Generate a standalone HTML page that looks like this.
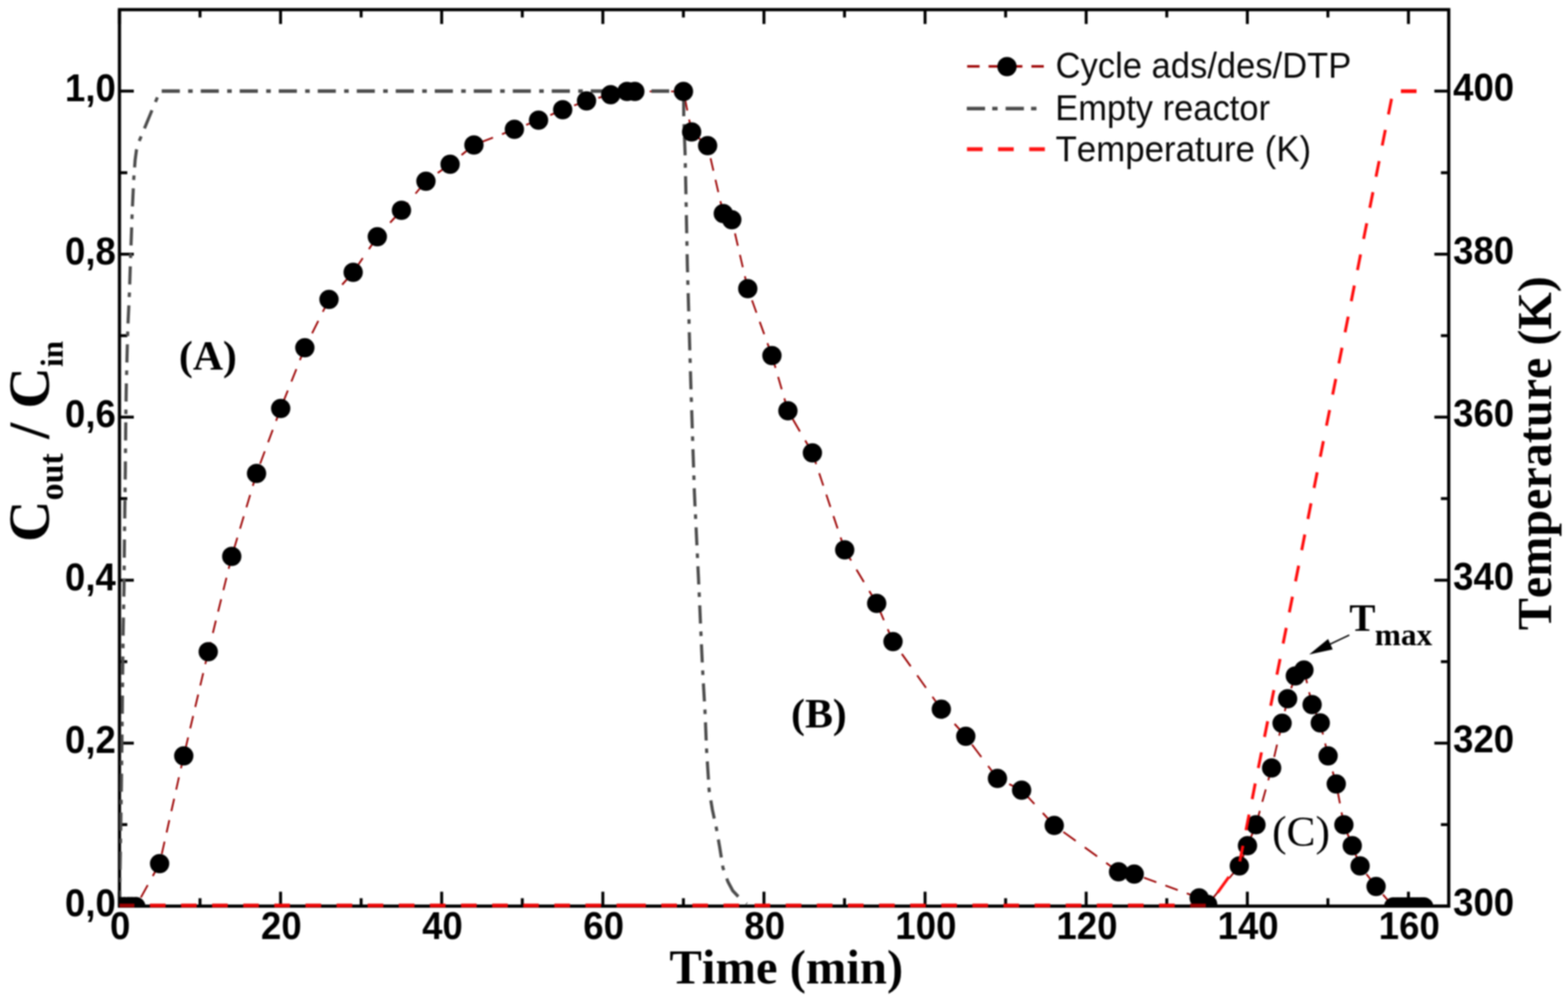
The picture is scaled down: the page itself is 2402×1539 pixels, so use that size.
<!DOCTYPE html>
<html lang="en"><head><meta charset="utf-8"><title>Cycle ads/des/DTP</title>
<style>
html,body{margin:0;padding:0;background:#fff;}
body{width:2402px;height:1539px;overflow:hidden;}
svg{display:block;}
text{font-kerning:none;}
#chart{filter:blur(1.10px);}
.tk{font-family:"Liberation Sans",sans-serif;font-weight:bold;font-size:59px;fill:#000;}
.lg{font-family:"Liberation Sans",sans-serif;font-size:55px;fill:#0a0a0a;}
.ti{font-family:"Liberation Serif",serif;font-weight:bold;fill:#000;}
</style></head><body>
<svg width="2402" height="1539" viewBox="0 0 2402 1539">
<rect width="2402" height="1539" fill="#fff"/>
<defs><clipPath id="plot"><rect x="183.0" y="14.8" width="2036.3" height="1375.3"/></clipPath></defs>
<g id="chart">
<rect x="183.0" y="14.8" width="2036.3" height="1372.8" fill="none" stroke="#000" stroke-width="4.9"/>
<path d="M183.0,1387.6 v-22.0 M183.0,14.8 v22.0 M306.4,1387.6 v-12.0 M306.4,14.8 v12.0 M429.8,1387.6 v-22.0 M429.8,14.8 v22.0 M553.2,1387.6 v-12.0 M553.2,14.8 v12.0 M676.6,1387.6 v-22.0 M676.6,14.8 v22.0 M800.1,1387.6 v-12.0 M800.1,14.8 v12.0 M923.5,1387.6 v-22.0 M923.5,14.8 v22.0 M1046.9,1387.6 v-12.0 M1046.9,14.8 v12.0 M1170.3,1387.6 v-22.0 M1170.3,14.8 v22.0 M1293.7,1387.6 v-12.0 M1293.7,14.8 v12.0 M1417.1,1387.6 v-22.0 M1417.1,14.8 v22.0 M1540.5,1387.6 v-12.0 M1540.5,14.8 v12.0 M1663.9,1387.6 v-22.0 M1663.9,14.8 v22.0 M1787.4,1387.6 v-12.0 M1787.4,14.8 v12.0 M1910.8,1387.6 v-22.0 M1910.8,14.8 v22.0 M2034.2,1387.6 v-12.0 M2034.2,14.8 v12.0 M2157.6,1387.6 v-22.0 M2157.6,14.8 v22.0 M183.0,1387.6 h22.0 M2219.3,1387.6 h-22.0 M183.0,1262.8 h12.0 M2219.3,1262.8 h-12.0 M183.0,1138.0 h22.0 M2219.3,1138.0 h-22.0 M183.0,1013.2 h12.0 M2219.3,1013.2 h-12.0 M183.0,888.4 h22.0 M2219.3,888.4 h-22.0 M183.0,763.6 h12.0 M2219.3,763.6 h-12.0 M183.0,638.8 h22.0 M2219.3,638.8 h-22.0 M183.0,514.0 h12.0 M2219.3,514.0 h-12.0 M183.0,389.2 h22.0 M2219.3,389.2 h-22.0 M183.0,264.4 h12.0 M2219.3,264.4 h-12.0 M183.0,139.6 h22.0 M2219.3,139.6 h-22.0" stroke="#000" stroke-width="4.5" fill="none"/>
<g clip-path="url(#plot)">
<path d="M190.0,1388.3 L184.0,1388.3 M196.5,1388.3 L190.0,1388.3 M202.0,1388.3 L196.5,1388.3 M208.0,1388.3 L202.0,1388.3 M244.5,1322.5 L234.0,1341.5 M226.3,1355.3 L215.8,1374.3 M208.1,1388.1 L208.0,1388.3 M281.5,1157.5 L277.2,1176.5 M274.1,1190.3 L269.9,1209.3 M266.8,1223.1 L262.5,1242.1 M259.4,1255.9 L255.2,1274.9 M252.1,1288.7 L247.8,1307.7 M244.7,1321.5 L244.5,1322.5 M319.0,998.0 L314.5,1017.0 M311.3,1030.8 L306.8,1049.8 M303.6,1063.6 L299.1,1082.6 M295.9,1096.4 L291.4,1115.4 M288.2,1129.2 L283.7,1148.2 M355.0,852.0 L350.3,871.0 M346.9,884.8 L342.2,903.8 M338.8,917.6 L334.1,936.6 M330.7,950.4 L326.1,969.4 M322.6,983.2 L319.0,998.0 M393.0,725.0 L387.3,744.0 M383.2,757.8 L377.5,776.8 M373.4,790.6 L367.7,809.6 M363.6,823.4 L357.9,842.4 M430.0,625.5 L422.9,644.5 M417.8,658.3 L410.7,677.3 M405.6,691.1 L398.5,710.1 M393.4,723.9 L393.0,725.0 M467.0,532.5 L459.4,551.5 M454.0,565.3 L446.4,584.3 M440.9,598.1 L433.3,617.1 M504.0,458.5 L494.5,477.5 M487.6,491.3 L478.1,510.3 M471.2,524.1 L467.0,532.5 M541.0,417.0 L524.1,436.0 M511.8,449.8 L504.0,458.5 M578.0,362.5 L565.1,381.5 M555.7,395.3 L542.8,414.3 M615.0,322.0 L597.6,341.0 M585.0,354.8 L578.0,362.5 M652.5,277.5 L636.5,296.5 M624.9,310.3 L615.0,322.0 M689.5,251.5 L670.5,264.9 M656.7,274.5 L652.5,277.5 M726.0,222.0 L707.0,237.4 M693.2,248.5 L689.5,251.5 M788.0,198.0 L769.0,205.4 M755.2,210.7 L736.2,218.1 M825.0,184.0 L806.0,191.2 M792.2,196.4 L788.0,198.0 M862.0,168.0 L843.0,176.2 M829.2,182.2 L825.0,184.0 M898.5,154.5 L879.5,161.5 M865.7,166.6 L862.0,168.0 M935.5,145.0 L916.5,149.9 M902.7,153.4 L898.5,154.5 M960.5,140.0 L941.5,143.8 M972.5,140.0 L960.5,140.0 M1047.0,140.0 L1028.0,140.0 M1014.2,140.0 L995.2,140.0 M981.4,140.0 L972.5,140.0 M1059.5,202.0 L1055.7,183.0 M1052.9,169.2 L1049.1,150.2 M1084.0,223.0 L1065.0,206.7 M1108.0,327.0 L1103.6,308.0 M1100.4,294.2 L1096.0,275.2 M1092.9,261.4 L1088.5,242.4 M1085.3,228.6 L1084.0,223.0 M1121.0,336.5 L1108.0,327.0 M1145.5,442.0 L1141.1,423.0 M1137.9,409.2 L1133.5,390.2 M1130.3,376.4 L1125.9,357.4 M1122.6,343.6 L1121.0,336.5 M1182.5,544.5 L1175.6,525.5 M1170.7,511.7 L1163.8,492.7 M1158.8,478.9 L1152.0,459.9 M1147.0,446.1 L1145.5,442.0 M1207.0,629.0 L1201.5,610.0 M1197.5,596.2 L1192.0,577.2 M1188.0,563.4 L1182.5,544.5 M1244.5,693.5 L1233.5,674.5 M1225.4,660.7 L1214.4,641.7 M1294.0,842.0 L1287.7,823.0 M1283.1,809.2 L1276.7,790.2 M1272.1,776.4 L1265.8,757.4 M1261.2,743.6 L1254.9,724.6 M1250.3,710.8 L1244.5,693.5 M1343.0,924.0 L1331.6,905.0 M1323.4,891.2 L1312.0,872.2 M1303.8,858.4 L1294.0,842.0 M1368.0,982.5 L1359.9,963.5 M1354.0,949.7 L1345.9,930.7 M1442.0,1086.0 L1428.4,1067.0 M1418.5,1053.2 L1405.0,1034.2 M1395.1,1020.4 L1381.5,1001.4 M1371.6,987.6 L1368.0,982.5 M1479.5,1127.5 L1462.3,1108.5 M1449.9,1094.7 L1442.0,1086.0 M1528.0,1192.0 L1513.7,1173.0 M1503.3,1159.2 L1489.0,1140.2 M1565.0,1210.0 L1546.0,1200.8 M1532.2,1194.0 L1528.0,1192.0 M1615.0,1264.0 L1597.4,1245.0 M1584.6,1231.2 L1567.0,1212.2 M1713.5,1335.0 L1694.5,1321.3 M1680.7,1311.4 L1661.7,1297.7 M1647.9,1287.7 L1628.9,1274.0 M1615.1,1264.1 L1615.0,1264.0 M1737.5,1338.5 L1718.5,1335.7 M1837.0,1375.0 L1818.0,1368.0 M1804.2,1363.0 L1785.2,1356.0 M1771.4,1350.9 L1752.4,1344.0 M1738.6,1338.9 L1737.5,1338.5 M1850.0,1385.0 L1837.0,1375.0 M1898.5,1326.0 L1882.9,1345.0 M1871.5,1358.8 L1855.9,1377.8 M1911.0,1295.0 L1903.3,1314.0 M1924.0,1263.0 L1916.3,1282.0 M1948.0,1176.0 L1942.8,1195.0 M1939.0,1208.8 L1933.7,1227.8 M1929.9,1241.6 L1924.7,1260.6 M1964.0,1107.5 L1959.6,1126.5 M1956.3,1140.3 L1951.9,1159.3 M1948.7,1173.1 L1948.0,1176.0 M1972.5,1070.0 L1968.2,1089.0 M1965.1,1102.8 L1964.0,1107.5 M1984.3,1035.0 L1977.9,1054.0 M1973.2,1067.8 L1972.5,1070.0 M1997.5,1026.0 L1984.3,1035.0 M2010.0,1079.0 L2005.5,1060.0 M2002.3,1046.2 L1997.8,1027.2 M2022.5,1107.0 L2014.0,1088.0 M2034.5,1157.5 L2030.0,1138.5 M2026.7,1124.7 L2022.5,1107.0 M2047.0,1200.5 L2041.5,1181.5 M2037.5,1167.7 L2034.5,1157.5 M2058.7,1263.0 L2055.1,1244.0 M2052.6,1230.2 L2049.0,1211.2 M2071.5,1295.0 L2063.9,1276.0 M2083.5,1326.0 L2076.1,1307.0 M2108.0,1357.5 L2093.2,1338.5 M2134.8,1388.8 L2118.5,1369.8 M2141.0,1388.8 L2134.8,1388.8 M2147.0,1388.8 L2141.0,1388.8 M2153.0,1388.8 L2147.0,1388.8 M2159.0,1388.8 L2153.0,1388.8 M2165.0,1388.8 L2159.0,1388.8 M2171.0,1388.8 L2165.0,1388.8 M2177.0,1388.8 L2171.0,1388.8 M2181.0,1388.8 L2177.0,1388.8" fill="none" stroke="#9c0000" stroke-width="2.7"/>
<path d="M241.1,149.1 L238.1,156.1 M232.8,168.8 L221.3,196.6 M216.2,208.8 L213.3,215.8 M209.4,228.6 L209.0,230.0 L207.0,245.0 L206.2,256.4 M205.3,268.6 L205.0,272.0 L204.8,275.6 M204.2,288.3 L202.9,316.1 M202.4,328.3 L202.1,335.3 M201.7,348.1 L200.7,375.9 M200.2,388.1 L200.0,395.1 M199.6,407.8 L198.7,435.6 M198.3,447.8 L197.9,454.8 M197.4,467.6 L196.1,495.4 M195.7,507.6 L195.5,514.6 M195.1,527.3 L194.5,550.0 L194.4,555.1 M194.1,567.3 L193.9,574.3 M193.6,587.1 L193.3,600.0 L193.1,614.9 M192.9,627.1 L192.8,634.1 M192.7,646.8 L192.5,660.0 L192.4,674.6 M192.3,686.8 L192.2,693.8 M192.1,706.6 L192.0,720.0 L191.8,734.4 M191.7,746.6 L191.6,753.6 M191.4,766.3 L191.2,780.0 L191.1,794.1 M190.9,806.3 L190.8,813.3 M190.7,826.1 L190.5,840.0 L190.4,853.9 M190.3,866.1 L190.2,873.1 M190.1,885.8 L190.0,900.0 L189.7,913.6 M189.5,925.8 L189.3,932.8 M189.1,945.6 L188.8,960.0 L188.6,973.4 M188.5,985.6 L188.4,992.6 M188.2,1005.3 L187.9,1033.1 M187.8,1045.3 L187.7,1052.3 M187.6,1065.1 L187.5,1072.0 L187.3,1092.9 M187.1,1105.1 L187.0,1112.1 M186.9,1124.8 L186.6,1152.6 M186.4,1164.8 L186.3,1171.8 M186.2,1184.6 L186.0,1200.0 L185.8,1212.4 M185.6,1224.6 L185.5,1231.6 M185.3,1244.3 L184.9,1272.1 M184.7,1284.3 L184.6,1291.3 M184.4,1304.1 L183.9,1331.9 M183.7,1344.1 L183.6,1351.1 M183.4,1363.8 L183.0,1387.0 M1047.3,150.2 L1047.4,178.0 M1047.8,190.2 L1048.1,197.2 M1048.5,209.9 L1049.5,235.0 L1049.6,237.8 M1049.8,249.9 L1049.9,256.9 M1050.2,269.7 L1050.8,297.5 M1051.0,309.7 L1051.2,316.7 M1051.4,329.4 L1052.0,357.2 M1052.2,369.4 L1052.4,376.4 M1052.6,389.2 L1053.0,408.0 L1053.3,417.0 M1053.6,429.2 L1053.8,436.2 M1054.2,448.9 L1055.0,476.8 M1055.4,488.9 L1055.6,495.9 M1055.9,508.7 L1056.7,536.5 M1057.1,548.7 L1057.3,555.7 M1057.7,568.5 L1058.0,580.0 L1058.5,596.2 M1058.9,608.5 L1059.2,615.5 M1059.6,628.2 L1060.5,656.0 M1060.9,668.2 L1061.1,675.2 M1061.5,687.9 L1062.5,715.8 M1062.9,728.0 L1063.1,735.0 M1063.5,747.7 L1063.8,755.0 L1064.7,775.5 M1065.3,787.7 L1065.7,794.7 M1066.3,807.5 L1067.6,835.2 M1068.2,847.5 L1068.5,854.5 M1069.1,867.2 L1070.0,885.0 L1070.4,895.0 M1071.0,907.2 L1071.3,914.2 M1071.9,927.0 L1073.1,954.8 M1073.6,967.0 L1074.0,974.0 M1074.5,986.7 L1075.8,1014.5 M1076.4,1026.7 L1076.8,1033.7 M1077.5,1046.5 L1079.1,1074.2 M1079.8,1086.5 L1080.0,1090.0 L1080.1,1093.5 M1080.7,1106.2 L1081.8,1134.0 M1082.3,1146.2 L1082.5,1150.0 L1082.7,1153.2 M1083.5,1166.0 L1085.3,1193.8 M1086.0,1206.0 L1086.3,1210.0 L1086.8,1213.0 M1088.9,1225.7 L1091.3,1240.0 L1094.2,1253.5 M1096.9,1265.7 L1097.5,1268.7 L1098.2,1272.7 M1100.4,1285.5 L1102.5,1297.5 L1105.0,1313.2 M1107.0,1325.5 L1107.5,1328.7 L1108.8,1332.5 M1113.3,1345.2 L1115.0,1350.0 L1122.5,1364.0 L1131.0,1373.0 M1143.2,1383.3 L1144.0,1384.0" fill="none" stroke="#4c4c4c" stroke-width="4.8" stroke-linejoin="round"/>
<path d="M964.7,139.6 L976.0,139.6 M952.5,139.6 L945.5,139.6 M932.8,139.6 L905.0,139.6 M892.8,139.6 L885.8,139.6 M873.0,139.6 L845.2,139.6 M833.0,139.6 L826.0,139.6 M813.2,139.6 L785.5,139.6 M773.2,139.6 L766.2,139.6 M753.5,139.6 L725.7,139.6 M713.5,139.6 L706.5,139.6 M693.8,139.6 L666.0,139.6 M653.8,139.6 L646.8,139.6 M634.0,139.6 L606.2,139.6 M594.0,139.6 L587.0,139.6 M574.2,139.6 L546.5,139.6 M534.2,139.6 L527.2,139.6 M514.5,139.6 L486.7,139.6 M474.5,139.6 L467.5,139.6 M454.8,139.6 L427.0,139.6 M414.8,139.6 L407.8,139.6 M395.0,139.6 L367.2,139.6 M355.0,139.6 L348.0,139.6 M335.2,139.6 L307.5,139.6 M295.2,139.6 L288.2,139.6 M275.5,139.6 L247.7,139.6 M997.9,139.6 L1025.2,139.6 M1038.3,139.6 L1045.0,139.6" fill="none" stroke="#4c4c4c" stroke-width="5.5"/>
<g fill="#000"><circle cx="184.0" cy="1388.3" r="14.8"/><circle cx="190.0" cy="1388.3" r="14.8"/><circle cx="196.5" cy="1388.3" r="14.8"/><circle cx="202.0" cy="1388.3" r="14.8"/><circle cx="208.0" cy="1388.3" r="14.8"/><circle cx="244.5" cy="1322.5" r="14.8"/><circle cx="281.5" cy="1157.5" r="14.8"/><circle cx="319.0" cy="998.0" r="14.8"/><circle cx="355.0" cy="852.0" r="14.8"/><circle cx="393.0" cy="725.0" r="14.8"/><circle cx="430.0" cy="625.5" r="14.8"/><circle cx="467.0" cy="532.5" r="14.8"/><circle cx="504.0" cy="458.5" r="14.8"/><circle cx="541.0" cy="417.0" r="14.8"/><circle cx="578.0" cy="362.5" r="14.8"/><circle cx="615.0" cy="322.0" r="14.8"/><circle cx="652.5" cy="277.5" r="14.8"/><circle cx="689.5" cy="251.5" r="14.8"/><circle cx="726.0" cy="222.0" r="14.8"/><circle cx="788.0" cy="198.0" r="14.8"/><circle cx="825.0" cy="184.0" r="14.8"/><circle cx="862.0" cy="168.0" r="14.8"/><circle cx="898.5" cy="154.5" r="14.8"/><circle cx="935.5" cy="145.0" r="14.8"/><circle cx="960.5" cy="140.0" r="14.8"/><circle cx="972.5" cy="140.0" r="14.8"/><circle cx="1047.0" cy="140.0" r="14.8"/><circle cx="1059.5" cy="202.0" r="14.8"/><circle cx="1084.0" cy="223.0" r="14.8"/><circle cx="1108.0" cy="327.0" r="14.8"/><circle cx="1121.0" cy="336.5" r="14.8"/><circle cx="1145.5" cy="442.0" r="14.8"/><circle cx="1182.5" cy="544.5" r="14.8"/><circle cx="1207.0" cy="629.0" r="14.8"/><circle cx="1244.5" cy="693.5" r="14.8"/><circle cx="1294.0" cy="842.0" r="14.8"/><circle cx="1343.0" cy="924.0" r="14.8"/><circle cx="1368.0" cy="982.5" r="14.8"/><circle cx="1442.0" cy="1086.0" r="14.8"/><circle cx="1479.5" cy="1127.5" r="14.8"/><circle cx="1528.0" cy="1192.0" r="14.8"/><circle cx="1565.0" cy="1210.0" r="14.8"/><circle cx="1615.0" cy="1264.0" r="14.8"/><circle cx="1713.5" cy="1335.0" r="14.8"/><circle cx="1737.5" cy="1338.5" r="14.8"/><circle cx="1837.0" cy="1375.0" r="14.8"/><circle cx="1850.0" cy="1385.0" r="14.8"/><circle cx="1898.5" cy="1326.0" r="14.8"/><circle cx="1911.0" cy="1295.0" r="14.8"/><circle cx="1924.0" cy="1263.0" r="14.8"/><circle cx="1948.0" cy="1176.0" r="14.8"/><circle cx="1964.0" cy="1107.5" r="14.8"/><circle cx="1972.5" cy="1070.0" r="14.8"/><circle cx="1984.3" cy="1035.0" r="14.8"/><circle cx="1997.5" cy="1026.0" r="14.8"/><circle cx="2010.0" cy="1079.0" r="14.8"/><circle cx="2022.5" cy="1107.0" r="14.8"/><circle cx="2034.5" cy="1157.5" r="14.8"/><circle cx="2047.0" cy="1200.5" r="14.8"/><circle cx="2058.7" cy="1263.0" r="14.8"/><circle cx="2071.5" cy="1295.0" r="14.8"/><circle cx="2083.5" cy="1326.0" r="14.8"/><circle cx="2108.0" cy="1357.5" r="14.8"/><circle cx="2134.8" cy="1388.8" r="14.8"/><circle cx="2141.0" cy="1388.8" r="14.8"/><circle cx="2147.0" cy="1388.8" r="14.8"/><circle cx="2153.0" cy="1388.8" r="14.8"/><circle cx="2159.0" cy="1388.8" r="14.8"/><circle cx="2165.0" cy="1388.8" r="14.8"/><circle cx="2171.0" cy="1388.8" r="14.8"/><circle cx="2177.0" cy="1388.8" r="14.8"/><circle cx="2181.0" cy="1388.8" r="14.8"/></g>
<path d="M968.5,1386.6 L944.5,1386.6 M920.8,1386.6 L896.8,1386.6 M873.2,1386.6 L849.2,1386.6 M825.5,1386.6 L801.5,1386.6 M777.9,1386.6 L753.9,1386.6 M730.2,1386.6 L706.2,1386.6 M682.5,1386.6 L658.5,1386.6 M634.9,1386.6 L610.9,1386.6 M587.2,1386.6 L563.2,1386.6 M539.6,1386.6 L515.6,1386.6 M491.9,1386.6 L467.9,1386.6 M444.2,1386.6 L420.2,1386.6 M396.6,1386.6 L372.6,1386.6 M348.9,1386.6 L324.9,1386.6 M301.3,1386.6 L277.3,1386.6 M253.6,1386.6 L229.6,1386.6 M1799.5,1386.6 L1775.5,1386.6 M1751.9,1386.6 L1727.9,1386.6 M1704.2,1386.6 L1680.2,1386.6 M1656.5,1386.6 L1632.5,1386.6 M1608.9,1386.6 L1584.9,1386.6 M1561.2,1386.6 L1537.2,1386.6 M1513.6,1386.6 L1489.6,1386.6 M1465.9,1386.6 L1441.9,1386.6 M1418.2,1386.6 L1394.2,1386.6 M1370.6,1386.6 L1346.6,1386.6 M1322.9,1386.6 L1298.9,1386.6 M1275.3,1386.6 L1251.3,1386.6 M1227.6,1386.6 L1203.6,1386.6 M1179.9,1386.6 L1155.9,1386.6 M1132.3,1386.6 L1108.3,1386.6 M1084.6,1386.6 L1060.6,1386.6 M1037.0,1386.6 L1013.0,1386.6 M989.3,1386.6 L968.5,1386.6" fill="none" stroke="#ec0808" stroke-width="5.8"/>
<path d="M2170.0,139.6 L2146.0,139.6" fill="none" stroke="#ff0c0c" stroke-width="5.8"/>
<path d="M205.9,1386.6 L183.0,1386.6 M1847.2,1386.6 L1823.2,1386.6" fill="none" stroke="#9a0000" stroke-width="5.8"/>
<path d="M2131.7,151.3 L2126.9,175.3 M2122.2,198.9 L2117.4,222.9 M2112.7,246.6 L2107.9,270.6 M2103.2,294.2 L2098.4,318.2 M2093.7,341.9 L2088.9,365.9 M2084.2,389.6 L2079.5,413.6 M2074.7,437.2 L2070.0,461.2 M2065.3,484.9 L2060.5,508.9 M2055.8,532.5 L2051.0,556.5 M2046.3,580.2 L2041.5,604.2 M2036.8,627.9 L2032.0,651.9 M2027.3,675.5 L2022.5,699.5 M2017.8,723.2 L2013.0,747.2 M2008.3,770.8 L2003.6,794.8 M1998.8,818.5 L1994.1,842.5 M1989.4,866.2 L1984.6,890.2 M1979.9,913.8 L1975.1,937.8 M1970.4,961.5 L1965.6,985.5 M1960.9,1009.1 L1956.1,1033.1 M1951.4,1056.8 L1946.6,1080.8 M1941.9,1104.5 L1937.1,1128.5 M1932.4,1152.1 L1927.6,1176.1 M1922.9,1199.8 L1918.2,1223.8 M1913.4,1247.4 L1908.7,1271.4 M1904.0,1295.1 L1899.2,1319.1 M1882.6,1342.8 L1865.3,1366.8" fill="none" stroke="#ff0c0c" stroke-width="4.5"/>
</g>
<text class="tk" transform="translate(184.2,1438.3) scale(0.950,1)" text-anchor="middle">0</text>
<text class="tk" transform="translate(431.0,1438.3) scale(0.950,1)" text-anchor="middle">20</text>
<text class="tk" transform="translate(677.8,1438.3) scale(0.950,1)" text-anchor="middle">40</text>
<text class="tk" transform="translate(924.7,1438.3) scale(0.950,1)" text-anchor="middle">60</text>
<text class="tk" transform="translate(1171.5,1438.3) scale(0.950,1)" text-anchor="middle">80</text>
<text class="tk" transform="translate(1418.3,1438.3) scale(0.950,1)" text-anchor="middle">100</text>
<text class="tk" transform="translate(1665.1,1438.3) scale(0.950,1)" text-anchor="middle">120</text>
<text class="tk" transform="translate(1912.0,1438.3) scale(0.950,1)" text-anchor="middle">140</text>
<text class="tk" transform="translate(2158.8,1438.3) scale(0.950,1)" text-anchor="middle">160</text>
<text class="tk" transform="translate(177.5,1402.9) scale(0.950,1)" text-anchor="end">0,0</text>
<text class="tk" transform="translate(177.5,1153.3) scale(0.950,1)" text-anchor="end">0,2</text>
<text class="tk" transform="translate(177.5,903.7) scale(0.950,1)" text-anchor="end">0,4</text>
<text class="tk" transform="translate(177.5,654.1) scale(0.950,1)" text-anchor="end">0,6</text>
<text class="tk" transform="translate(177.5,404.5) scale(0.950,1)" text-anchor="end">0,8</text>
<text class="tk" transform="translate(177.5,154.9) scale(0.950,1)" text-anchor="end">1,0</text>
<text class="tk" transform="translate(2226.0,1402.0) scale(0.950,1)" text-anchor="start">300</text>
<text class="tk" transform="translate(2226.0,1152.4) scale(0.950,1)" text-anchor="start">320</text>
<text class="tk" transform="translate(2226.0,902.8) scale(0.950,1)" text-anchor="start">340</text>
<text class="tk" transform="translate(2226.0,653.2) scale(0.950,1)" text-anchor="start">360</text>
<text class="tk" transform="translate(2226.0,403.6) scale(0.950,1)" text-anchor="start">380</text>
<text class="tk" transform="translate(2226.0,154.0) scale(0.950,1)" text-anchor="start">400</text>
<text class="ti" x="1204.5" y="1506" text-anchor="middle" font-size="74.5">Time (min)</text>
<text class="ti" transform="translate(74,676) rotate(-90)" text-anchor="middle" font-size="88">C<tspan font-size="52" dy="22">out</tspan><tspan dy="-22"> / C</tspan><tspan font-size="48" dy="22">in</tspan></text>
<text class="ti" transform="translate(2376,694) rotate(-90)" text-anchor="middle" font-size="73.7">Temperature (K)</text>
<text class="ti" x="318.5" y="565.6" text-anchor="middle" font-size="64">(A)</text>
<text class="ti" x="1254.5" y="1114" text-anchor="middle" font-size="64">(B)</text>
<text class="ti" x="1993" y="1294.5" text-anchor="middle" font-size="66.5" style="font-weight:normal">(C)</text>
<text class="ti" x="2067" y="966" font-size="60">T<tspan font-size="48" dx="-1" dy="21.5">max</tspan></text>
<path d="M2067,972.5 L2030,990" stroke="#000" stroke-width="2.1" fill="none"/>
<path d="M2005.5,1002.3 L2034.5,978.5 L2041.5,994.5 Z" fill="#000"/>
<path d="M1599.0,101.6 L1580.0,101.6 M1566.2,101.6 L1547.2,101.6 M1533.4,101.6 L1514.4,101.6 M1500.6,101.6 L1481.6,101.6" stroke="#9c0000" stroke-width="3.8" fill="none"/>
<circle cx="1542.6" cy="102.0" r="14.8" fill="#000"/>
<path d="M1481,166.2 H1590" stroke="#4c4c4c" stroke-width="5.6" stroke-dasharray="28 11 8.2 12.3" fill="none"/>
<path d="M1600.6,228.4 L1576.6,228.4 M1552.9,228.4 L1528.9,228.4 M1505.3,228.4 L1481.3,228.4" stroke="#ff1414" stroke-width="6.0" fill="none"/>
<text class="lg" x="1617" y="118.8" textLength="453" lengthAdjust="spacingAndGlyphs">Cycle ads/des/DTP</text>
<text class="lg" x="1616.5" y="184.3" textLength="329" lengthAdjust="spacingAndGlyphs">Empty reactor</text>
<text class="lg" x="1617" y="247.4" textLength="391.5" lengthAdjust="spacingAndGlyphs">Temperature (K)</text>
</g></svg></body></html>
